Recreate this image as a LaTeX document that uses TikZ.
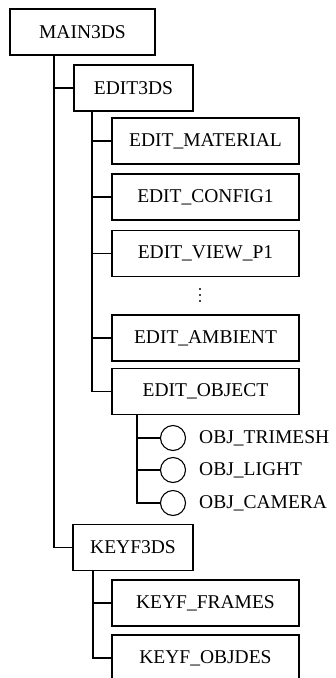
\documentclass[tikz,border=0pt]{standalone}
\usepackage{fontspec}
\setmainfont{Liberation Serif}
\begin{document}
\begin{tikzpicture}[x=1pt,y=-1pt,
  box/.style={draw, line width=1.1pt, minimum height=46pt, inner sep=0pt,
    font=\fontsize{19.5}{21}\selectfont},
  wbox/.style={box, minimum width=187pt},
  leaf/.style={draw, circle, line width=1.1pt, minimum size=25pt, inner sep=0pt},
  lbl/.style={anchor=west, inner sep=0pt, font=\fontsize{19.5}{21}\selectfont},
  conn/.style={line width=1.1pt}]
\useasboundingbox (0,0) rectangle (335,678);
\fill[white] (0,0) rectangle (335,678);

\node[box, minimum width=145pt] (main) at (82.5,32) {MAIN3DS};
\node[box, minimum width=119pt] (edit) at (133.5,88) {EDIT3DS};
\node[wbox] (mat)  at (205.5,141)   {EDIT\_MATERIAL};
\node[wbox] (cfg)  at (205.5,197)   {EDIT\_CONFIG1};
\node[wbox] (view) at (205.5,253.5) {EDIT\_VIEW\_P1};
\node[wbox] (amb)  at (205.5,338)   {EDIT\_AMBIENT};
\node[wbox] (obj)  at (205.5,391.5) {EDIT\_OBJECT};
\node[leaf] (c1) at (173,438) {};
\node[leaf] (c2) at (173,470) {};
\node[leaf] (c3) at (173,503) {};
\node[lbl] (l1) at (199,438) {OBJ\_TRIMESH};
\node[lbl] (l2) at (199,470) {OBJ\_LIGHT};
\node[lbl] (l3) at (199,503) {OBJ\_CAMERA};
\node[box, minimum width=120pt] (keyf) at (133,547.5) {KEYF3DS};
\node[wbox] (frames) at (205.5,603) {KEYF\_FRAMES};
\node[wbox] (objdes) at (205.5,658) {KEYF\_OBJDES};

\fill (200,289) circle (1.2pt) (200,295) circle (1.2pt) (200,301) circle (1.2pt);

\coordinate (mv) at (54,55);
\coordinate (ev) at (92,111);
\coordinate (ov) at (137,414);
\coordinate (kv) at (93,570);

\draw[conn] (mv) |- (edit.west);
\draw[conn] (mv) |- (keyf.west);
\draw[conn] (ev) |- (mat.west);
\draw[conn] (ev) |- (cfg.west);
\draw[conn] (ev) |- (view.west);
\draw[conn] (ev) |- (amb.west);
\draw[conn] (ev) |- (obj.west);
\draw[conn] (ov) |- (c1.west);
\draw[conn] (ov) |- (c2.west);
\draw[conn] (ov) |- (c3.west);
\draw[conn] (kv) |- (frames.west);
\draw[conn] (kv) |- (objdes.west);
\end{tikzpicture}
\end{document}
